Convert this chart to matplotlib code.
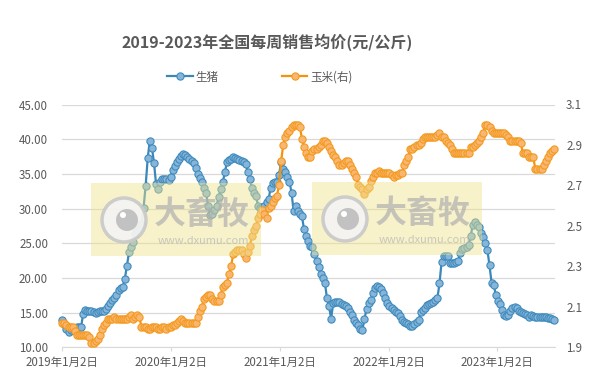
import pandas as pd
import matplotlib
matplotlib.use("Agg")
import matplotlib.pyplot as plt
from matplotlib.patches import Rectangle, Ellipse

plt.rcParams['font.family'] = ['Noto Sans CJK SC', 'DejaVu Sans']

## dados semanais ##
start_date = "2019-01-02"

pig = [13.9, 13.4, 12.7, 12.2, 12.5, 12.7, 12.8, 12.9, 12.9, 12.9,
       14.8, 15.4, 15.3, 15.3, 15.2, 15.1, 15.0, 15.1, 15.2, 15.2,
       15.2, 15.5, 15.9, 16.4, 16.8, 17.1, 17.6, 18.3, 18.5, 18.7,
       19.9, 21.7, 23.7, 24.5, 25.2, 26.4, 26.9, 27.4, 27.8, 30.1,
       33.3, 37.3, 39.8, 38.8, 36.6, 33.5, 32.8, 33.9, 34.2, 34.3,
       34.2, 34.1, 34.6, 35.6, 36.2, 36.7, 37.2, 37.6, 37.9, 37.7,
       37.4, 37.1, 36.9, 36.6, 35.9, 35.0, 34.4, 33.8, 33.0, 32.3,
       30.3, 29.1, 29.2, 29.8, 30.4, 31.6, 32.8, 33.8, 35.2, 36.7,
       37.0, 37.2, 37.5, 37.3, 37.2, 37.0, 36.9, 36.7, 36.4, 35.3,
       34.3, 32.9, 32.2, 31.8, 30.3, 30.1, 30.2, 30.4, 30.9, 31.4,
       33.0, 33.7, 33.8, 33.9, 34.9, 36.7, 35.7, 35.3, 34.5, 33.9,
       32.3, 29.6, 30.3, 29.6, 29.2, 28.9, 27.0, 26.0, 25.3, 24.6,
       24.4, 23.4, 22.5, 21.6, 20.5, 20.0, 19.3, 17.1, 15.9, 14.1,
       16.4, 16.6, 16.6, 16.5, 16.3, 16.1, 15.9, 15.6, 15.1, 14.7,
       13.9, 13.5, 13.2, 12.6, 12.5, 14.1, 15.5, 16.4, 16.8, 17.8,
       18.5, 18.8, 18.7, 18.4, 17.8, 17.1, 16.4, 15.9, 15.6, 15.4,
       15.1, 14.9, 14.5, 13.9, 13.7, 13.5, 13.3, 13.0, 13.1, 13.3,
       13.6, 13.9, 15.1, 15.4, 15.6, 16.1, 16.3, 16.4, 16.6, 16.8,
       17.1, 19.2, 22.3, 23.1, 23.1, 23.1, 22.2, 22.1, 22.1, 22.3,
       22.5, 23.6, 24.1, 24.3, 24.5, 24.7, 26.1, 27.7, 28.0, 27.7,
       27.4, 26.5, 25.9, 25.1, 24.0, 21.8, 19.3, 19.0, 17.6, 16.7,
       16.2, 15.4, 14.7, 14.5, 14.7, 15.2, 15.6, 15.8, 15.6, 15.3,
       15.1, 15.0, 14.8, 14.6, 14.4, 14.7, 14.5, 14.4, 14.3, 14.3,
       14.3, 14.3, 14.3, 14.2, 14.2, 14.1, 13.9]

corn = [2.02, 2.02, 2.01, 2.00, 2.00, 2.00, 1.98, 1.96, 1.96, 1.96,
        1.96, 1.96, 1.96, 1.95, 1.92, 1.92, 1.93, 1.94, 1.96, 1.99,
        2.01, 2.02, 2.04, 2.04, 2.04, 2.05, 2.04, 2.04, 2.04, 2.04,
        2.04, 2.04, 2.05, 2.06, 2.04, 2.05, 2.06, 2.05, 2.00, 2.00,
        2.00, 1.99, 1.99, 2.00, 2.00, 2.00, 1.99, 1.99, 2.00, 2.00,
        1.99, 2.00, 2.00, 2.01, 2.01, 2.02, 2.03, 2.04, 2.03, 2.02,
        2.02, 2.02, 2.02, 2.02, 2.02, 2.05, 2.08, 2.10, 2.14, 2.15,
        2.16, 2.16, 2.14, 2.13, 2.13, 2.13, 2.16, 2.20, 2.21, 2.22,
        2.26, 2.30, 2.36, 2.37, 2.38, 2.38, 2.38, 2.36, 2.34, 2.37,
        2.40, 2.45, 2.48, 2.50, 2.54, 2.56, 2.58, 2.56, 2.54, 2.59,
        2.60, 2.62, 2.64, 2.65, 2.70, 2.82, 2.90, 2.94, 2.96, 2.97,
        2.99, 3.00, 3.00, 3.00, 2.99, 2.93, 2.89, 2.86, 2.84, 2.84,
        2.87, 2.88, 2.88, 2.89, 2.90, 2.92, 2.92, 2.91, 2.89, 2.87,
        2.85, 2.84, 2.82, 2.80, 2.80, 2.81, 2.82, 2.82, 2.80, 2.78,
        2.76, 2.74, 2.70, 2.69, 2.68, 2.66, 2.68, 2.69, 2.72, 2.74,
        2.76, 2.76, 2.77, 2.76, 2.76, 2.76, 2.76, 2.76, 2.75, 2.74,
        2.75, 2.75, 2.76, 2.76, 2.80, 2.82, 2.84, 2.88, 2.88, 2.89,
        2.90, 2.90, 2.91, 2.93, 2.94, 2.94, 2.94, 2.94, 2.94, 2.94,
        2.95, 2.96, 2.94, 2.94, 2.92, 2.91, 2.90, 2.88, 2.86, 2.86,
        2.86, 2.86, 2.86, 2.86, 2.86, 2.86, 2.89, 2.89, 2.90, 2.91,
        2.92, 2.94, 2.96, 3.00, 3.00, 2.99, 2.97, 2.96, 2.96, 2.96,
        2.96, 2.96, 2.96, 2.95, 2.94, 2.92, 2.92, 2.92, 2.92, 2.92,
        2.91, 2.86, 2.86, 2.86, 2.84, 2.84, 2.84, 2.78, 2.78, 2.78,
        2.78, 2.80, 2.82, 2.84, 2.86, 2.87, 2.88]

dates = pd.date_range(start_date, periods=len(pig), freq="7D")

left_ticks = [10, 15, 20, 25, 30, 35, 40, 45]
right_ticks = [1.9, 2.1, 2.3, 2.5, 2.7, 2.9, 3.1]
x_ticks = pd.to_datetime(["2019-01-02", "2020-01-02", "2021-01-02", "2022-01-02", "2023-01-02"])
x_labels = [f"{d.year}年{d.month}月{d.day}日" for d in x_ticks]

W, H = 598, 390
gray = "#595959"
grid_c = "#d9d9d9"

fig = plt.figure(figsize=(W / 100, H / 100), dpi=100)
ax = fig.add_axes([62 / W, 1 - 347.3 / H, (555 - 62) / W, (347.3 - 104.5) / H])
ax2 = ax.twinx()

l1, = ax.plot(dates, pig, color="#3a87b8", lw=1.6, marker="o", ms=5.2,
              mfc="#86b5d9", mec="#3f8bbd", mew=0.8, clip_on=False, zorder=3,
              label="生猪")
l2, = ax2.plot(dates, corn, color="#f5940c", lw=1.6, marker="o", ms=5.2,
               mfc="#f9b673", mec="#f49a1c", mew=0.8, clip_on=False, zorder=3,
               label="玉米(右)")

ax.set_xlim(dates[0] - pd.Timedelta(days=1), dates[-1] + pd.Timedelta(days=3))
ax.set_ylim(10, 45)
ax.set_yticks(left_ticks)
ax.set_yticklabels([f"{v:.2f}" for v in left_ticks])
ax2.set_ylim(1.9, 3.1)
ax2.set_yticks(right_ticks)
ax2.set_yticklabels([f"{v:.1f}" for v in right_ticks])
ax.set_xticks(x_ticks)
ax.set_xticklabels(x_labels)

ax.grid(axis="y", color=grid_c, lw=0.9)
ax.set_axisbelow(True)
for a in (ax, ax2):
    for s in a.spines.values():
        s.set_visible(False)
ax.spines["bottom"].set_visible(True)
ax.spines["bottom"].set_color(grid_c)
ax.tick_params(axis="y", length=0, pad=10, labelsize=8.3, labelcolor=gray)
ax2.tick_params(axis="y", length=0, pad=8, labelsize=8.3, labelcolor=gray)
ax.tick_params(axis="x", length=3, color=grid_c, pad=3, labelsize=8.3, labelcolor=gray)

fig.text(267.5 / W, 1 - 42 / H, "2019-2023年全国每周销售均价(元/公斤)",
         ha="center", va="center", fontsize=11.5, fontweight="bold", color=gray)

fig.legend(handles=[l1, l2], loc="center", bbox_to_anchor=(260 / W, 1 - 77 / H),
           ncol=2, frameon=False, fontsize=8.3, labelcolor=gray,
           handlelength=2.2, handletextpad=0.25, columnspacing=5.5, numpoints=1)

## marca d'agua ##
def watermark(x0, y0):
    tf = fig.transFigure
    fig.add_artist(Rectangle((x0 / W, 1 - (y0 + 73) / H), 170 / W, 73 / H,
                             transform=tf, facecolor="#efe38a", alpha=0.45,
                             edgecolor="none", zorder=10))
    cx, cy = x0 + 33, y0 + 37
    fig.add_artist(Ellipse((cx / W, 1 - cy / H), 44 / W, 44 / H, transform=tf,
                           facecolor="#f4f4f4", edgecolor="#c8c8c8", lw=2.5,
                           alpha=0.9, zorder=11))
    fig.add_artist(Ellipse(((cx + 3) / W, 1 - cy / H), 22 / W, 22 / H, transform=tf,
                           facecolor="#c0c0c0", edgecolor="none", alpha=0.95, zorder=12))
    fig.add_artist(Ellipse(((cx - 1) / W, 1 - (cy - 5) / H), 6 / W, 6 / H, transform=tf,
                           facecolor="white", edgecolor="none", zorder=13))
    fig.text((x0 + 111) / W, 1 - (y0 + 32) / H, "大畜牧", ha="center", va="center",
             fontsize=23, fontweight="bold", color="#b0b0b0", alpha=0.7, zorder=12)
    fig.text((x0 + 112) / W, 1 - (y0 + 58) / H, "www.dxumu.com", ha="center",
             va="center", fontsize=8, color="#b4b4b4", alpha=0.7, zorder=12)

watermark(91, 183)
watermark(312, 182)

fig.savefig("out.png", dpi=100)
